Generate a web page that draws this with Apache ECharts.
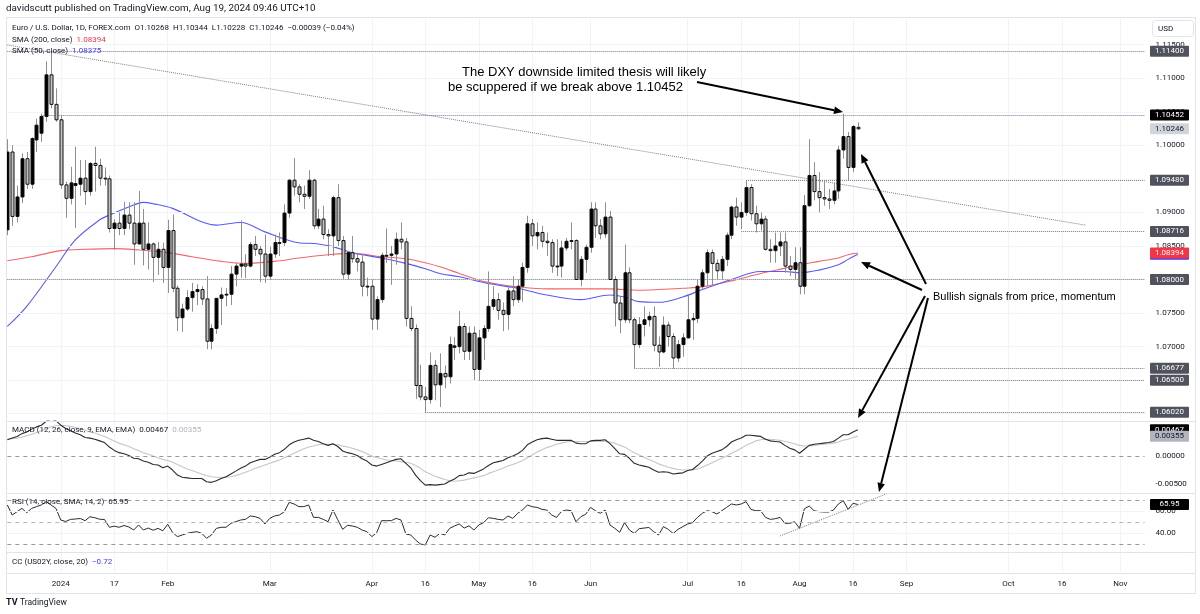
<!DOCTYPE html>
<html><head><meta charset="utf-8">
<script src="https://cdn.jsdelivr.net/npm/echarts@6/dist/echarts.min.js"></script>
<style>html,body{margin:0;padding:0;background:#fff;}#c{width:1200px;height:614px;}</style>
</head><body><div id="c"></div>
<script>
// ---------- DATA ----------
const holidays = ['2023-12-25', '2024-01-01'];
const nCategories = 235;
const categories = (function () {
  const out = []; const d = new Date(Date.UTC(2023, 11, 14));
  while (out.length < nCategories) {
    const s = d.toISOString().slice(0, 10); const wd = d.getUTCDay();
    if (wd !== 0 && wd !== 6 && holidays.indexOf(s) < 0) out.push(s);
    d.setUTCDate(d.getUTCDate() + 1);
  }
  return out;
})();
const xTickLabels = {11:'2024',22:'17',33:'Feb',54:'Mar',75:'Apr',86:'16',97:'May',108:'16',120:'Jun',140:'Jul',151:'16',163:'Aug',174:'16',185:'Sep',206:'Oct',217:'16',229:'Nov'};

const opens = [
1.0874,1.0990,1.0894,1.0923,1.0980,1.0942,1.1008,1.1018,1.1043,1.1105,
1.1061,1.1038,1.0941,1.0921,1.0940,1.0942,1.0951,1.0931,1.0973,1.0970,
1.0951,1.0950,1.0876,1.0884,1.0876,1.0896,1.0884,1.0853,1.0884,1.0845,
1.0853,1.0833,1.0845,1.0818,1.0873,1.0787,1.0743,1.0756,1.0773,1.0782,
1.0785,1.0771,1.0708,1.0727,1.0772,1.0777,1.0778,1.0808,1.0820,1.0823,
1.0820,1.0852,1.0845,1.0838,1.0805,1.0838,1.0855,1.0855,1.0899,1.0948,
1.0938,1.0927,1.0924,1.0948,1.0880,1.0890,1.0867,1.0865,1.0922,1.0858,
1.0808,1.0840,1.0831,1.0826,1.0790,1.0790,1.0741,1.0770,1.0836,1.0836,
1.0838,1.0860,1.0856,1.0742,1.0727,1.0642,1.0625,1.0621,1.0672,1.0643,
1.0660,1.0655,1.0699,1.0700,1.0730,1.0693,1.0720,1.0666,1.0713,1.0727,
1.0760,1.0770,1.0754,1.0748,1.0783,1.0770,1.0790,1.0818,1.0883,1.0865,
1.0870,1.0857,1.0855,1.0820,1.0820,1.0847,1.0857,1.0858,1.0800,1.0830,
1.0848,1.0905,1.0880,1.0868,1.0893,1.0800,1.0765,1.0740,1.0810,1.0740,
1.0703,1.0733,1.0740,1.0745,1.0702,1.0692,1.0732,1.0715,1.0683,1.0703,
1.0713,1.0740,1.0742,1.0790,1.0810,1.0840,1.0824,1.0813,1.0830,1.0866,
1.0908,1.0893,1.0900,1.0937,1.0898,1.0883,1.0890,1.0845,1.0843,1.0850,
1.0856,1.0820,1.0815,1.0825,1.0790,1.0910,1.0955,1.0931,1.0922,1.0920,
1.0918,1.0932,1.0993,1.1013,1.0967,1.10268];
const highs = [
1.1009,1.1000,1.0940,1.0988,1.0990,1.1012,1.1040,1.1047,1.1125,1.1139,
1.1085,1.1045,1.0946,1.0968,1.0998,1.0978,1.0978,1.0975,1.0998,1.0980,
1.0967,1.0955,1.0890,1.0900,1.0916,1.0915,1.0915,1.0932,1.0905,1.0885,
1.0855,1.0856,1.0855,1.0889,1.0897,1.0791,1.0764,1.0784,1.0795,1.0793,
1.0790,1.0805,1.0733,1.0770,1.0788,1.0787,1.0820,1.0825,1.0888,1.0838,
1.0856,1.0865,1.0850,1.0867,1.0849,1.0867,1.0870,1.0912,1.0950,1.0981,
1.0942,1.0940,1.0963,1.0950,1.0905,1.0910,1.0875,1.0925,1.0942,1.0865,
1.0843,1.0865,1.0840,1.0838,1.0803,1.0800,1.0775,1.0840,1.0876,1.0850,
1.0870,1.0885,1.0862,1.0760,1.0733,1.0673,1.0640,1.0691,1.0680,1.0690,
1.0672,1.0715,1.0714,1.0753,1.0735,1.0730,1.0730,1.0725,1.0732,1.0812,
1.0790,1.0780,1.0766,1.0790,1.0805,1.0800,1.0825,1.0895,1.0890,1.0885,
1.0880,1.0870,1.0860,1.0860,1.0858,1.0862,1.0885,1.0860,1.0835,1.0852,
1.0915,1.0915,1.0890,1.0915,1.0902,1.0805,1.0775,1.0852,1.0818,1.0743,
1.0744,1.0760,1.0752,1.0760,1.0715,1.0745,1.0737,1.0720,1.0710,1.0720,
1.0776,1.0750,1.0800,1.0815,1.0845,1.0845,1.0830,1.0835,1.0870,1.0910,
1.0922,1.0915,1.0948,1.0942,1.0910,1.0900,1.0895,1.0860,1.0870,1.0870,
1.0870,1.0835,1.0848,1.0848,1.0926,1.1009,1.0975,1.0960,1.0945,1.0935,
1.0945,1.0999,1.1047,1.1020,1.1030,1.10344];
const lows = [
1.0866,1.0880,1.0885,1.0914,1.0935,1.0935,1.0990,1.1005,1.1035,1.1055,
1.1035,1.0935,1.0892,1.0912,1.0877,1.0925,1.0911,1.0925,1.0931,1.0940,
1.0940,1.0870,1.0844,1.0866,1.0866,1.0875,1.0822,1.0852,1.0821,1.0815,
1.0796,1.0807,1.0795,1.0780,1.0781,1.0723,1.0722,1.0753,1.0752,1.0762,
1.0762,1.0696,1.0696,1.0719,1.0732,1.0760,1.0762,1.0790,1.0803,1.0802,
1.0818,1.0835,1.0796,1.0795,1.0800,1.0832,1.0835,1.0850,1.0892,1.0925,
1.0915,1.0905,1.0920,1.0875,1.0875,1.0860,1.0835,1.0835,1.0850,1.0801,
1.0800,1.0825,1.0812,1.0775,1.0775,1.0725,1.0725,1.0765,1.0825,1.0792,
1.0822,1.0845,1.0730,1.0723,1.0622,1.0620,1.0601,1.0615,1.0620,1.0610,
1.0638,1.0645,1.0680,1.0690,1.0680,1.0680,1.0650,1.0650,1.0680,1.0722,
1.0755,1.0740,1.0723,1.0725,1.0760,1.0765,1.0767,1.0810,1.0850,1.0845,
1.0848,1.0835,1.0810,1.0805,1.0803,1.0843,1.0845,1.0800,1.0790,1.0810,
1.0840,1.0862,1.0860,1.0862,1.0800,1.0730,1.0720,1.0735,1.0735,1.0667,
1.0698,1.0715,1.0730,1.0693,1.0670,1.0690,1.0700,1.0667,1.0677,1.0685,
1.0712,1.0710,1.0735,1.0785,1.0790,1.0790,1.0800,1.0800,1.0820,1.0860,
1.0880,1.0875,1.0895,1.0888,1.0870,1.0873,1.0843,1.0825,1.0825,1.0835,
1.0810,1.0805,1.0800,1.0778,1.0778,1.0908,1.0918,1.0900,1.0910,1.0905,
1.0912,1.0920,1.0980,1.0948,1.0960,1.10228];
const closes = [
1.0990,1.0894,1.0923,1.0980,1.0942,1.1010,1.1030,1.1043,1.1105,1.1061,
1.1038,1.0941,1.0921,1.0944,1.0943,1.0951,1.0931,1.0973,1.0970,1.0951,
1.0950,1.0876,1.0884,1.0876,1.0896,1.0884,1.0853,1.0884,1.0845,1.0853,
1.0833,1.0845,1.0818,1.0873,1.0787,1.0743,1.0756,1.0773,1.0782,1.0785,
1.0771,1.0708,1.0727,1.0772,1.0777,1.0778,1.0808,1.0820,1.0823,1.0820,
1.0852,1.0845,1.0838,1.0805,1.0838,1.0855,1.0855,1.0899,1.0948,1.0938,
1.0927,1.0924,1.0948,1.0880,1.0890,1.0867,1.0865,1.0922,1.0858,1.0808,
1.0840,1.0831,1.0826,1.0790,1.0790,1.0741,1.0770,1.0836,1.0836,1.0838,
1.0860,1.0856,1.0742,1.0727,1.0642,1.0625,1.0621,1.0672,1.0643,1.0660,
1.0655,1.0703,1.0701,1.0730,1.0693,1.0720,1.0666,1.0713,1.0727,1.0760,
1.0770,1.0754,1.0748,1.0783,1.0770,1.0790,1.0818,1.0883,1.0865,1.0870,
1.0857,1.0855,1.0820,1.0820,1.0847,1.0857,1.0858,1.0800,1.0830,1.0848,
1.0905,1.0880,1.0868,1.0893,1.0800,1.0765,1.0740,1.0810,1.0740,1.0703,
1.0733,1.0740,1.0745,1.0702,1.0692,1.0732,1.0715,1.0683,1.0703,1.0713,
1.0740,1.0742,1.0790,1.0810,1.0840,1.0824,1.0813,1.0830,1.0866,1.0908,
1.0893,1.0900,1.0937,1.0898,1.0883,1.0890,1.0845,1.0843,1.0850,1.0856,
1.0820,1.0815,1.0825,1.0790,1.0910,1.0955,1.0931,1.0922,1.0920,1.0918,
1.0932,1.0993,1.1013,1.0967,1.1028,1.10246];

// SMA lines read at sample bars: [barIndex, value]
const sma200 = [[0,1.0828],[5,1.0834],[11,1.0843],[16,1.0845],[22,1.0846],[27,1.0844],[33,1.0840],[38,1.0834],[44,1.0827],[49,1.0824],[55,1.0827],[60,1.0832],[66,1.0837],[71,1.0839],[77,1.0834],[82,1.0831],[86,1.0825],[89,1.0819],[93,1.0809],[97,1.0799],[101,1.0793],[105,1.0789],[111,1.0786],[118,1.0786],[124,1.0786],[130,1.0784],[134,1.0785],[139,1.0787],[143,1.0789],[149,1.0798],[155,1.0809],[160,1.0817],[163,1.0822],[167,1.0827],[171,1.0832],[173,1.0837],[175,1.08394]];
const sma50 = [[0,1.0730],[4,1.0760],[10,1.0819],[14,1.0859],[19,1.0889],[21,1.0896],[26,1.0911],[28,1.0915],[30,1.0913],[34,1.0906],[40,1.0886],[43,1.0881],[48,1.0885],[53,1.0871],[59,1.0856],[64,1.0853],[67,1.0849],[71,1.0840],[77,1.0832],[82,1.0824],[86,1.0816],[89,1.0809],[93,1.0804],[99,1.0794],[105,1.0787],[111,1.0777],[118,1.0770],[124,1.0777],[127,1.0774],[130,1.0767],[134,1.0766],[139,1.0774],[143,1.0785],[149,1.0800],[155,1.0812],[160,1.0812],[163,1.0810],[167,1.0814],[171,1.0822],[173,1.0830],[175,1.08375]];

const macdLine = [
0.0029,0.0032,0.0035,0.0040,0.0043,0.0048,0.0052,0.0055,0.0062,0.0066,
0.0063,0.0055,0.0049,0.0045,0.0041,0.0038,0.0033,0.0032,0.0030,0.0027,
0.0024,0.0016,0.0010,0.0006,0.0004,0.0001,-0.0004,-0.0005,-0.0009,-0.0011,
-0.0015,-0.0016,-0.0021,-0.0018,-0.0025,-0.0034,-0.0038,-0.0039,-0.0040,-0.0040,
-0.0040,-0.0046,-0.0047,-0.0044,-0.0040,-0.0037,-0.0032,-0.0027,-0.0022,-0.0018,
-0.0012,-0.0009,-0.0006,-0.0006,-0.0002,0.0003,0.0006,0.0012,0.0020,0.0025,
0.0028,0.0030,0.0032,0.0028,0.0026,0.0022,0.0019,0.0022,0.0017,0.0009,
0.0006,0.0004,0.0001,-0.0005,-0.0009,-0.0016,-0.0018,-0.0015,-0.0012,-0.0009,
-0.0006,-0.0005,-0.0013,-0.0021,-0.0034,-0.0044,-0.0052,-0.0051,-0.0052,-0.0051,
-0.0050,-0.0045,-0.0041,-0.0035,-0.0034,-0.0030,-0.0031,-0.0027,-0.0023,-0.0017,
-0.0012,-0.0010,-0.0008,-0.0003,0.0000,0.0004,0.0010,0.0020,0.0025,0.0029,
0.0031,0.0032,0.0030,0.0028,0.0028,0.0028,0.0028,0.0023,0.0022,0.0022,
0.0027,0.0028,0.0028,0.0029,0.0022,0.0013,0.0004,0.0003,-0.0004,-0.0013,
-0.0016,-0.0018,-0.0020,-0.0025,-0.0029,-0.0028,-0.0029,-0.0032,-0.0031,-0.0030,
-0.0026,-0.0024,-0.0017,-0.0009,0.0000,0.0005,0.0008,0.0011,0.0017,0.0025,
0.0029,0.0032,0.0037,0.0037,0.0036,0.0035,0.0030,0.0027,0.0026,0.0025,
0.0019,0.0014,0.0011,0.0005,0.0012,0.0019,0.0021,0.0022,0.0023,0.0024,
0.0026,0.0032,0.0038,0.0038,0.0043,0.00467];
const macdSignal = [
0.0030,0.0031,0.0032,0.0034,0.0036,0.0039,0.0042,0.0045,0.0049,0.0052,
0.0054,0.0055,0.0054,0.0053,0.0051,0.0049,0.0046,0.0043,0.0041,0.0038,
0.0035,0.0031,0.0027,0.0023,0.0020,0.0017,0.0013,0.0010,0.0006,0.0003,
0.0000,-0.0003,-0.0006,-0.0008,-0.0011,-0.0015,-0.0019,-0.0023,-0.0026,-0.0029,
-0.0032,-0.0035,-0.0037,-0.0038,-0.0038,-0.0038,-0.0037,-0.0035,-0.0032,-0.0029,
-0.0026,-0.0022,-0.0019,-0.0016,-0.0013,-0.0010,-0.0007,-0.0003,0.0001,0.0005,
0.0009,0.0013,0.0016,0.0018,0.0020,0.0021,0.0021,0.0021,0.0020,0.0018,
0.0016,0.0014,0.0011,0.0008,0.0004,0.0000,-0.0003,-0.0005,-0.0007,-0.0008,
-0.0009,-0.0010,-0.0011,-0.0013,-0.0017,-0.0022,-0.0028,-0.0032,-0.0036,-0.0039,
-0.0042,-0.0044,-0.0045,-0.0044,-0.0043,-0.0041,-0.0039,-0.0037,-0.0035,-0.0031,
-0.0028,-0.0025,-0.0022,-0.0018,-0.0015,-0.0012,-0.0008,-0.0003,0.0002,0.0007,
0.0011,0.0015,0.0018,0.0021,0.0023,0.0025,0.0026,0.0026,0.0026,0.0026,
0.0026,0.0026,0.0026,0.0026,0.0025,0.0023,0.0019,0.0016,0.0011,0.0006,
0.0002,-0.0002,-0.0006,-0.0010,-0.0014,-0.0017,-0.0020,-0.0022,-0.0024,-0.0025,
-0.0025,-0.0025,-0.0023,-0.0020,-0.0016,-0.0012,-0.0008,-0.0004,0.0000,0.0005,
0.0009,0.0014,0.0019,0.0023,0.0027,0.0029,0.0030,0.0030,0.0029,0.0028,
0.0026,0.0024,0.0022,0.0019,0.0018,0.0018,0.0019,0.0020,0.0021,0.0022,
0.0023,0.0025,0.0028,0.0030,0.0033,0.00355];
const rsiLine = [
65.5,56.4,59.4,62.4,58.5,62.4,64.0,65.5,68.5,65.5,
62.4,51.8,50.5,52.4,52.7,53.2,51.2,54.8,53.9,52.5,
52.3,45.2,46.2,45.2,46.8,45.5,42.7,47.3,42.7,44.5,
42.5,44.2,42.0,47.9,40.5,36.7,38.2,39.7,40.6,41.2,
39.7,35.2,38.2,44.2,45.2,45.2,48.8,50.3,51.8,52.4,
55.5,54.8,53.3,48.2,53.3,55.5,56.4,59.4,67.9,66.4,
64.0,64.0,65.5,54.2,54.2,52.4,50.3,60.9,52.0,43.3,
47.0,46.4,45.2,42.7,41.2,36.7,40.3,51.2,51.2,51.2,
53.3,51.8,39.1,38.2,33.6,30.0,29.1,38.2,36.1,39.7,
38.2,44.2,46.4,48.2,44.5,46.5,42.7,47.3,49.4,53.9,
53.3,52.4,51.8,55.5,53.3,57.9,60.9,65.5,63.9,63.3,
61.5,60.9,56.4,54.2,59.4,60.9,60.3,50.3,54.8,57.0,
63.3,60.3,57.9,60.9,47.3,44.2,40.6,49.4,42.7,39.7,
43.9,44.5,45.0,41.2,38.2,45.8,43.3,39.5,43.3,45.8,
48.2,49.4,54.2,57.9,60.3,59.4,57.3,60.3,63.3,66.4,
65.5,66.4,68.5,61.5,60.3,60.3,54.2,52.4,53.0,54.2,
48.8,48.8,50.3,44.2,62.0,64.5,60.3,59.4,59.1,59.1,
60.9,66.4,69.4,61.5,67.0,65.95];

const priceTicks = [1.060,1.065,1.070,1.075,1.080,1.085,1.090,1.095,1.100,1.105,1.110,1.115];
const macdTicks = [-0.005, 0, 0.005];
const rsiTicks = [40, 60];
// horizontal drawn levels: [startBar, price]
const levels = [[0,1.11400],[7,1.10452],[152,1.09480],[151,1.08716],[0,1.08000],[129,1.06677],[97,1.06500],[86,1.06020]];
// trend lines: [[bar, price],[bar, price]]
const trendLines = [[[0,1.11495],[222,1.08808]], [[74,1.0589],[221,1.07577]]];
const rsiTrend = [[159,37.3],[181,75.8]];
// right-side price tags: [axis, value, text, bg, fg]
const priceTags = [
 [0,1.11400,'1.11400','#50535e','#fff'],[0,1.10452,'1.10452','#000','#fff'],[0,1.10246,'1.10246','#d1d4dc','#131722'],
 [0,1.09480,'1.09480','#50535e','#fff'],[0,1.08716,'1.08716','#50535e','#fff'],[0,1.08375,'1.08375','#3c3cff','#fff'],
 [0,1.08394,'1.08394','#f23645','#fff'],[0,1.08000,'1.08000','#50535e','#fff'],[0,1.06677,'1.06677','#50535e','#fff'],
 [0,1.06500,'1.06500','#50535e','#fff'],[0,1.06020,'1.06020','#50535e','#fff'],
 [1,0.00467,'0.00467','#000','#fff'],[1,0.00355,'0.00355','#b2b5be','#131722'],[2,65.95,'65.95','#000','#fff']];

// ---------- CHART ----------
const chart = echarts.init(document.getElementById('c'), null, {width:1200, height:614});
const L = 7.33, STEP = 4.86, W = (nCategories - 1) * STEP;
const FONT = 'Roboto, "Liberation Sans", sans-serif';
const ARIAL = '"Liberation Sans", Arial, sans-serif';
const GRID_C = '#f0f3fa', DOT_C = '#787b86', TXT = '#131722';
const candleData = opens.map((o, i) => [i, o, closes[i], lows[i], highs[i]]);

function hLine(y0, i0, i1, style) { return [{coord:[i0, y0], lineStyle: style}, {coord:[i1, y0]}]; }
const last = nCategories - 1;
const mainMarks = [];
priceTicks.forEach(t => mainMarks.push(hLine(t, 0, last, {color:GRID_C, type:'solid', width:1})));
levels.forEach(l => mainMarks.push(hLine(l[1], l[0], last, {color:DOT_C, type:'dotted', width:1})));
trendLines.forEach(t => mainMarks.push([{coord:t[0], lineStyle:{color:DOT_C, type:'dotted', width:1}}, {coord:t[1]}]));

function xAxisDef(gi, showLabels) {
  return {type:'category', gridIndex:gi, data:categories, boundaryGap:false,
    axisLine:{show:false}, axisTick:{show:false},
    axisLabel:{show:showLabels, interval:(i)=>xTickLabels[i]!==undefined, formatter:(v,i)=>xTickLabels[i]||'',
      fontSize:8, color:TXT, fontFamily:FONT, margin:8},
    splitLine:{show:true, interval:(i)=>xTickLabels[i]!==undefined, lineStyle:{color:GRID_C, width:1}}};
}
function yAxisDef(gi, min, max, ticks, fmt) {
  return {type:'value', gridIndex:gi, position:'right', min:min, max:max, scale:true,
    splitLine:{show:false}, axisLine:{show:false}, axisTick:{show:false},
    axisLabel:{show:!!ticks, customValues:ticks||[], formatter:fmt, fontSize:8, color:TXT, fontFamily:FONT, margin:11}};
}
const silentMark = (data) => ({silent:true, symbol:['none','none'], label:{show:false}, data:data});

chart.setOption({
  animation:false,
  grid:[
    {left:L, top:19, width:W, height:402},
    {left:L, top:421, width:W, height:72},
    {left:L, top:493, width:W, height:59},
    {left:L, top:552, width:W, height:20}],
  xAxis:[xAxisDef(0,false), xAxisDef(1,false), xAxisDef(2,false), xAxisDef(3,true)],
  yAxis:[
    yAxisDef(0, 1.058912, 1.118823, priceTicks, v=>v.toFixed(5)),
    yAxisDef(1, -0.0066, 0.00625, macdTicks, v=>v.toFixed(5)),
    yAxisDef(2, 22.7, 76.4, rsiTicks, v=>v.toFixed(2)),
    yAxisDef(3, 0, 1, null, null)],
  series:[
    {type:'line', name:'levels', xAxisIndex:0, yAxisIndex:0, data:closes, showSymbol:false, silent:true,
      lineStyle:{opacity:0}, z:1, markLine:silentMark(mainMarks)},
    {type:'line', name:'SMA200', xAxisIndex:0, yAxisIndex:0, data:sma200, smooth:0.35, showSymbol:false, silent:true,
      lineStyle:{color:'#f0666b', width:1.1}, z:2},
    {type:'line', name:'SMA50', xAxisIndex:0, yAxisIndex:0, data:sma50, smooth:0.35, showSymbol:false, silent:true,
      lineStyle:{color:'#5a5af5', width:1.1}, z:2},
    {type:'custom', name:'EURUSD', xAxisIndex:0, yAxisIndex:0, data:candleData, clip:true, z:5, silent:true,
      encode:{x:0, y:[1,2,3,4]},
      renderItem:function(params, api){
        const i = api.value(0), o = api.value(1), c = api.value(2), l = api.value(3), h = api.value(4);
        const pO = api.coord([i, o]), pC = api.coord([i, c]), pL = api.coord([i, l]), pH = api.coord([i, h]);
        const x = Math.round(pO[0]) + 0.5;
        const top = Math.min(pO[1], pC[1]), bot = Math.max(pO[1], pC[1]);
        const up = c >= o;
        return {type:'group', children:[
          {type:'line', shape:{x1:x, y1:pH[1], x2:x, y2:pL[1]}, style:{stroke:'#8f8f8f', lineWidth:1}},
          {type:'rect', shape:{x:x-1.5, y:top, width:3, height:Math.max(bot-top, 0.8)},
            style:{fill: up ? '#000' : '#c2c2c2', stroke:'#111', lineWidth:1}}]};
      }},
    {type:'line', name:'MACD', xAxisIndex:1, yAxisIndex:1, data:macdLine, showSymbol:false, silent:true,
      lineStyle:{color:'#2b2b2b', width:1.1}, z:3,
      markLine:silentMark([
        {yAxis:0, lineStyle:{color:'#9598a1', type:[4,4], width:1}},
        {yAxis:-0.005, lineStyle:{color:GRID_C, type:'solid', width:1}},
        {yAxis:0.005, lineStyle:{color:GRID_C, type:'solid', width:1}}])},
    {type:'line', name:'Signal', xAxisIndex:1, yAxisIndex:1, data:macdSignal, showSymbol:false, silent:true,
      lineStyle:{color:'#c4c6cc', width:1.1}, z:2},
    {type:'line', name:'RSI', xAxisIndex:2, yAxisIndex:2, data:rsiLine, showSymbol:false, silent:true,
      lineStyle:{color:'#2b2b2b', width:1}, z:3,
      markLine:silentMark([
        {yAxis:70, lineStyle:{color:'#9598a1', type:[4,4], width:1}},
        {yAxis:50, lineStyle:{color:'#b2b5be', type:[4,4], width:1}},
        {yAxis:30, lineStyle:{color:'#9598a1', type:[4,4], width:1}},
        {yAxis:40, lineStyle:{color:GRID_C, type:'solid', width:1}},
        {yAxis:60, lineStyle:{color:GRID_C, type:'solid', width:1}},
        [{coord:rsiTrend[0], lineStyle:{color:DOT_C, type:'dotted', width:1}}, {coord:rsiTrend[1]}]])}
  ]
});

// ---------- ANNOTATIONS ----------
function arrow(x1, y1, x2, y2) {
  const a = Math.atan2(y2 - y1, x2 - x1), hl = 9, hw = 3.8;
  const hx = x2 - hl * Math.cos(a), hy = y2 - hl * Math.sin(a);
  const px = -Math.sin(a) * hw, py = Math.cos(a) * hw;
  return [
    {type:'line', shape:{x1:x1, y1:y1, x2:hx, y2:hy}, style:{stroke:'#000', lineWidth:2}, z:60},
    {type:'polygon', shape:{points:[[x2,y2],[hx+px,hy+py],[hx-px,hy-py]]}, style:{fill:'#000'}, z:60}];
}
function txt(x, y, s, size, color, family, weight) {
  return {type:'text', x:x, y:y, z:70, style:{text:s, fill:color||TXT, font:(weight?weight+' ':'')+(size||8)+'px '+(family||FONT), verticalAlign:'middle'}};
}
function rich(x, y, parts, size) {
  let text = ''; const r = {};
  parts.forEach((p, k) => { text += '{p' + k + '|' + p[0] + '}'; r['p'+k] = {fill:p[1], color:p[1], fontSize:size, fontFamily:FONT}; });
  return {type:'text', x:x, y:y, z:70, style:{text:text, rich:r, font:size+'px '+FONT, verticalAlign:'middle'}};
}
const g = [];
// frame and panel separators
g.push({type:'rect', shape:{x:6.5, y:17.5, width:1189, height:576}, style:{fill:null, stroke:'#e0e3eb', lineWidth:1}, z:50});
[421.5, 493.5, 552.5, 573.5].forEach(y => g.push({type:'line', shape:{x1:6.5, y1:y, x2:1195.5, y2:y}, style:{stroke:'#e0e3eb', lineWidth:1}, z:50}));
// header
g.push(txt(6, 9, 'davidscutt published on TradingView.com, Aug 19, 2024 09:46 UTC+10', 9.9, '#131722'));
g.push(txt(12, 28, 'Euro / U.S. Dollar, 1D, FOREX.com  O1.10268  H1.10344  L1.10228  C1.10246  \u22120.00039 (\u22120.04%)', 8, '#131722'));
g.push(rich(12, 39.5, [['SMA (200, close)  ', '#131722'], ['1.08394', '#f23645']], 8));
g.push(rich(12, 51, [['SMA (50, close)  ', '#131722'], ['1.08375', '#3c3cff']], 8));
g.push(rich(12, 430, [['MACD (12, 26, close, 9, EMA, EMA)  ', '#131722'], ['0.00467  ', '#131722'], ['0.00355', '#b2b5be']], 8));
g.push(rich(12, 502, [['RSI (14, close, SMA, 14, 2)  ', '#131722'], ['65.95', '#131722']], 8));
g.push(rich(12, 562, [['CC (US02Y, close, 20)  ', '#131722'], ['\u22120.72', '#3c3cff']], 8));
// USD box
g.push({type:'rect', shape:{x:1152.5, y:20.5, width:41, height:16, r:3}, style:{fill:'#fff', stroke:'#e0e3eb', lineWidth:1}, z:55});
g.push(txt(1158, 29, 'USD', 8, '#131722'));
// TradingView footer
g.push(txt(6, 603, 'TV', 9, '#131722', FONT, 'bold'));
g.push(txt(20, 603, 'TradingView', 8.5, '#131722'));
// annotation texts
g.push(txt(462, 72, 'The DXY downside limited thesis will likely', 13, '#000', ARIAL));
g.push(txt(448, 87, 'be scuppered if we break above 1.10452', 13, '#000', ARIAL));
g.push(txt(933, 297, 'Bullish signals from price, momentum', 11, '#000', ARIAL));
// arrows
[[697,82,843,112],[926,284,861,154],[922,290,861,262],[925,296,858,418],[928,298,879,492]].forEach(a => arrow(a[0],a[1],a[2],a[3]).forEach(e => g.push(e)));
// price tags (later tags drawn above earlier ones)
priceTags.forEach((t, k) => {
  const y = chart.convertToPixel({yAxisIndex:t[0]}, t[1]);
  g.push({type:'rect', shape:{x:1150, y:y-5.5, width:39, height:11, r:1}, style:{fill:t[3]}, z:80 + 2*k});
  g.push({type:'text', x:1169.5, y:y, z:81 + 2*k, style:{text:t[2], fill:t[4], font:'8px '+FONT, align:'center', verticalAlign:'middle'}});
});
chart.setOption({graphic:{elements:g}});
</script></body></html>
